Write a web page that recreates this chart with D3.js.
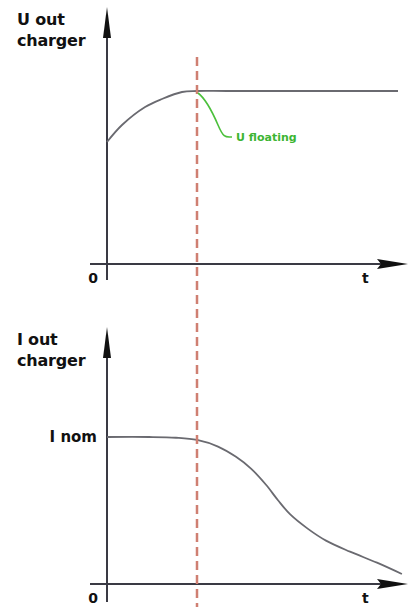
<!DOCTYPE html>
<html>
<head>
<meta charset="utf-8">
<script src="https://cdn.jsdelivr.net/npm/d3@7"></script>
<style>
	body { margin: 0; background: #fff; }
	text { font-family: "DejaVu Sans", Verdana, sans-serif; font-weight: bold; fill: #111; }
</style>
</head>
<body>
<div id="chart"></div>
<script>
// top panel: output voltage vs time
const uTime = [0, 5, 12.7, 18.3, 25, 30, 40, 97];
const uValue = [61, 69.5, 78.5, 82.5, 86, 86.5, 86.5, 86.5];

// bottom panel: output current vs time (I nom = 100)
const iTime = [0, 14, 23, 30, 37, 43, 48, 53, 57, 61, 67, 73, 81, 90, 98.3];
const iValue = [100, 100, 99.5, 98, 93.5, 86.5, 78.5, 67.5, 57, 47.5, 37.5, 29.5, 22, 14.5, 6.8];

const switchTime = 30;
const iNom = 100;

const topLabels = ['U out', 'charger'];
const bottomLabels = ['I out', 'charger'];
const floatLabel = 'U floating';
const nomLabel = 'I nom';
const originLabel = '0';
const timeLabel = 't';

const width = 414;
const height = 607;

const svg = d3.select('#chart')
	.append('svg')
	.attr('width', width)
	.attr('height', height);

const x = d3.scaleLinear().domain([0, 100]).range([107, 407]);
const yU = d3.scaleLinear().domain([0, 100]).range([264, 64]);
const yI = d3.scaleLinear().domain([0, 100]).range([584, 437]);

const axisColor = '#3a3a44';
const lineColor = '#6a6a70';

const drawAxes = (g, y, top, bottom) => {
	const x0 = x(0);
	const yBase = y(0);
	// vertical axis
	g.append('line')
		.attr('x1', x0).attr('x2', x0)
		.attr('y1', top + 10).attr('y2', bottom)
		.attr('stroke', axisColor)
		.attr('stroke-width', 2);
	g.append('path')
		.attr('d', `M${x0},${top} L${x0 + 4},${top + 31} L${x0 - 4},${top + 31} Z`)
		.attr('fill', '#111');
	// horizontal axis
	const xEnd = x(100) + 1;
	g.append('line')
		.attr('x1', x0 - 17).attr('x2', xEnd - 10)
		.attr('y1', yBase).attr('y2', yBase)
		.attr('stroke', axisColor)
		.attr('stroke-width', 2);
	g.append('path')
		.attr('d', `M${xEnd},${yBase} L${xEnd - 31},${yBase - 5} L${xEnd - 27},${yBase} L${xEnd - 31},${yBase + 5} Z`)
		.attr('fill', '#111');
	g.append('text')
		.attr('x', x0 - 9).attr('y', yBase + 19)
		.attr('text-anchor', 'end')
		.style('font-size', '14px')
		.text(originLabel);
	g.append('text')
		.attr('x', 362).attr('y', yBase + 19)
		.style('font-size', '14px')
		.text(timeLabel);
};

const drawTitle = (g, lines, y0) => {
	g.selectAll('text.title')
		.data(lines)
		.enter()
		.append('text')
		.attr('class', 'title')
		.attr('x', 17)
		.attr('y', (d, i) => y0 + i * 21)
		.style('font-size', '16px')
		.style('letter-spacing', '-0.2px')
		.text(d => d);
};

const line = d3.line().curve(d3.curveCatmullRom.alpha(0.5));

// top panel
const gTop = svg.append('g');
drawAxes(gTop, yU, 7, 280);
drawTitle(gTop, topLabels, 25);

gTop.append('path')
	.attr('d', line(uTime.map((t, i) => [x(t), yU(uValue[i])])))
	.attr('fill', 'none')
	.attr('stroke', lineColor)
	.attr('stroke-width', 1.8);

// bottom panel
const gBot = svg.append('g');
drawAxes(gBot, yI, 327, 602);
drawTitle(gBot, bottomLabels, 345);

gBot.append('path')
	.attr('d', line(iTime.map((t, i) => [x(t), yI(iValue[i])])))
	.attr('fill', 'none')
	.attr('stroke', lineColor)
	.attr('stroke-width', 1.8);

gBot.append('text')
	.attr('x', 97).attr('y', yI(iNom) + 5)
	.attr('text-anchor', 'end')
	.style('font-size', '15px')
	.text(nomLabel);

// switch-over marker
svg.append('line')
	.attr('x1', x(switchTime)).attr('x2', x(switchTime))
	.attr('y1', 57).attr('y2', height)
	.attr('stroke', '#cf7f72')
	.attr('stroke-width', 2.5)
	.attr('stroke-dasharray', '9,5');

// U floating annotation
const ax = x(switchTime) + 1;
const ay = yU(86.5) + 2;
svg.append('path')
	.attr('d', `M${ax},${ay} C${ax + 8},${ay + 6} ${ax + 14},${ay + 18} ${ax + 20},${ay + 32} S${ax + 28},${ay + 44} ${ax + 34},${ay + 44}`)
	.attr('fill', 'none')
	.attr('stroke', '#4cc03c')
	.attr('stroke-width', 1.6);
svg.append('text')
	.attr('x', 236).attr('y', ay + 48)
	.style('font-size', '11px')
	.style('fill', '#3cb532')
	.text(floatLabel);
</script>
</body>
</html>
